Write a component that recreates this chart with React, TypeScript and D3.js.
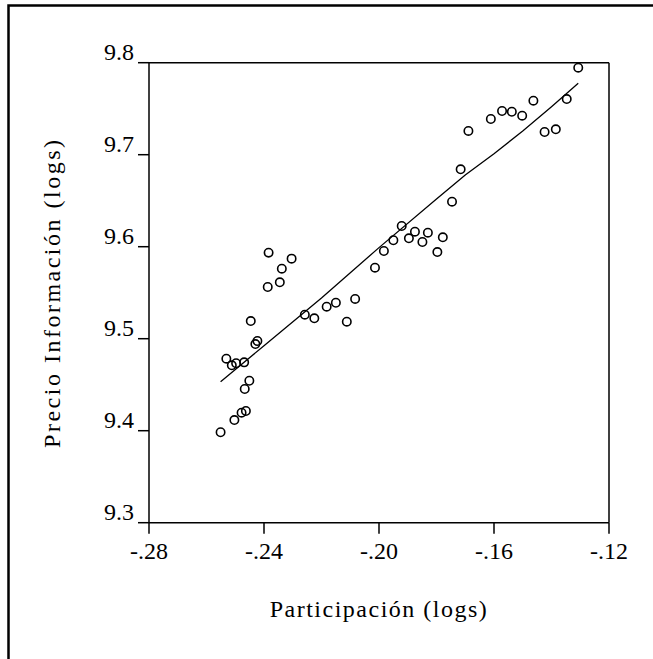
import React from "react";
import * as d3 from "d3";

const participacion: number[] = [
  -0.2551, -0.2531, -0.2512, -0.2503, -0.2497, -0.2478, -0.2469, -0.2467, -0.2463, -0.2451,
  -0.2446, -0.243, -0.2423, -0.2387, -0.2384, -0.2345, -0.2338, -0.2304, -0.2258, -0.2225,
  -0.2182, -0.215, -0.2112, -0.2083, -0.2014, -0.1983, -0.195, -0.1921, -0.1896, -0.1875,
  -0.1849, -0.183, -0.1797, -0.1778, -0.1746, -0.1716, -0.1689, -0.1611, -0.1572, -0.1538,
  -0.1502, -0.1463, -0.1424, -0.1385, -0.1347, -0.1307,
];
const precio: number[] = [
  9.3983, 9.4783, 9.4711, 9.4116, 9.4733, 9.4196, 9.4743, 9.4453, 9.4214, 9.4543,
  9.5192, 9.4942, 9.4975, 9.5562, 9.5935, 9.5613, 9.5761, 9.587, 9.5261, 9.5222,
  9.5348, 9.5391, 9.5185, 9.5432, 9.5772, 9.5953, 9.607, 9.6225, 9.6091, 9.6163,
  9.6051, 9.6152, 9.5942, 9.6102, 9.6489, 9.6841, 9.7258, 9.7388, 9.7475, 9.7467,
  9.7424, 9.7587, 9.7247, 9.7276, 9.7605, 9.7946,
];
const fitX: number[] = [-0.2551, -0.24, -0.22, -0.2, -0.18, -0.17, -0.16, -0.15, -0.14, -0.1307];
const fitY: number[] = [9.4533, 9.4924, 9.5442, 9.599, 9.6518, 9.678, 9.701, 9.7258, 9.7522, 9.7776];
const xTicks: number[] = [-0.28, -0.24, -0.2, -0.16, -0.12];
const xTickLabels: string[] = ["-.28", "-.24", "-.20", "-.16", "-.12"];
const yTicks: number[] = [9.3, 9.4, 9.5, 9.6, 9.7, 9.8];
const yTickLabels: string[] = ["9.3", "9.4", "9.5", "9.6", "9.7", "9.8"];
const xTitle = "Participación (logs)";
const yTitle = "Precio Información (logs)";

const W = 653;
const H = 659;
const left = 149;
const right = 609;
const top = 62.7;
const bottom = 522.7;
const font = "'Liberation Serif', 'Times New Roman', serif";

export default function App() {
  const x = d3.scaleLinear().domain([-0.28, -0.12]).range([left, right]);
  const y = d3.scaleLinear().domain([9.3, 9.8]).range([bottom, top]);
  const line = d3
    .line<number>()
    .x((_, i) => x(fitX[i]))
    .y((d) => y(d));
  const fitPath = line(fitY) || "";

  return (
    <svg
      width={W}
      height={H}
      style={{ position: "absolute", left: 0, top: 0, background: "#fff" }}
    >
      <rect x={0} y={0} width={W} height={H} fill="#fff" />
      {/* outer frame */}
      <rect x={8.5} y={5.5} width={W + 50} height={H + 50} fill="none" stroke="#000" strokeWidth={2.5} />
      {/* plot box */}
      <line x1={left} x2={right} y1={top} y2={top} stroke="#000" strokeWidth={1.5} />
      <line x1={right} x2={right} y1={top} y2={bottom} stroke="#000" strokeWidth={1.5} />
      <line x1={left} x2={left} y1={top} y2={bottom} stroke="#000" strokeWidth={1.5} />
      <line x1={left} x2={right} y1={bottom} y2={bottom} stroke="#000" strokeWidth={1.5} />
      {yTicks.map((t, i) => (
        <g key={"y" + i}>
          <line x1={left - 11} x2={left} y1={y(t)} y2={y(t)} stroke="#000" strokeWidth={1.5} />
          <text
            x={134}
            y={y(t) - 3}
            textAnchor="end"
            fontFamily={font}
            fontSize={24}
            fill="#000"
          >
            {yTickLabels[i]}
          </text>
        </g>
      ))}
      {xTicks.map((t, i) => (
        <g key={"x" + i}>
          <line x1={x(t)} x2={x(t)} y1={bottom} y2={bottom + 11} stroke="#000" strokeWidth={1.5} />
          <text
            x={x(t)}
            y={558.5}
            textAnchor="middle"
            fontFamily={font}
            fontSize={24}
            fill="#000"
          >
            {xTickLabels[i]}
          </text>
        </g>
      ))}
      <path d={fitPath} fill="none" stroke="#000" strokeWidth={1.3} />
      {participacion.map((v, i) => (
        <circle
          key={"p" + i}
          cx={x(v)}
          cy={y(precio[i])}
          r={4.2}
          fill="none"
          stroke="#000"
          strokeWidth={1.6}
        />
      ))}
      <text
        x={(left + right) / 2}
        y={617}
        textAnchor="middle"
        fontFamily={font}
        fontSize={24}
        letterSpacing={1.5}
        fill="#000"
      >
        {xTitle}
      </text>
      <text
        transform={`translate(60, ${(top + bottom) / 2}) rotate(-90)`}
        textAnchor="middle"
        fontFamily={font}
        fontSize={24}
        letterSpacing={2.5}
        fill="#000"
      >
        {yTitle}
      </text>
    </svg>
  );
}
